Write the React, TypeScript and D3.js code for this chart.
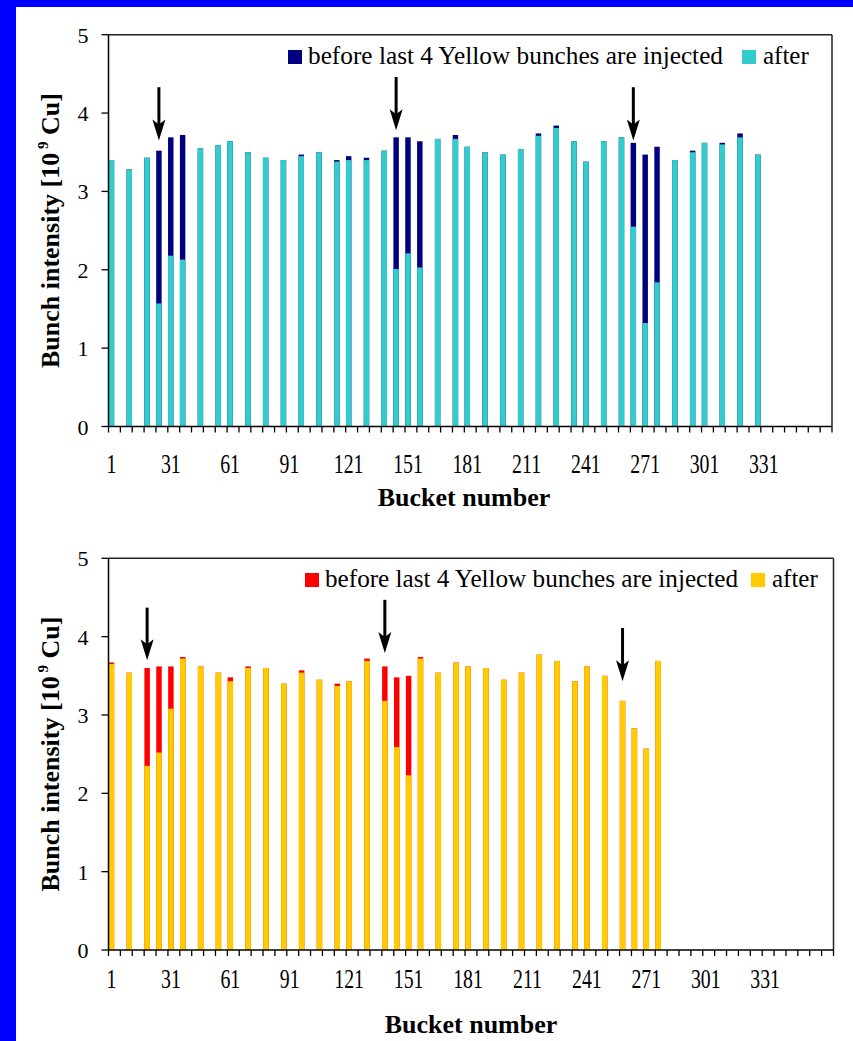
import React from 'react';
import * as d3 from 'd3';

// Category axis: every third bucket (RHIC bunch slots)
const buckets = d3.range(1, 365, 3);
const tickLabels = [1, 31, 61, 91, 121, 151, 181, 211, 241, 271, 301, 331];
const yTicks = [0, 1, 2, 3, 4, 5];

// Blue ring
const blueBuckets = [1, 10, 19, 25, 31, 37, 46, 55, 61, 70, 79, 88, 97, 106, 115, 121, 130, 139, 145, 151, 157, 166, 175, 181, 190, 199, 208, 217, 226, 235, 241, 250, 259, 265, 271, 277, 286, 295, 301, 310, 319, 328];
const blueAfter = [3.40, 3.28, 3.43, 1.57, 2.18, 2.13, 3.55, 3.59, 3.64, 3.50, 3.43, 3.40, 3.45, 3.50, 3.38, 3.40, 3.40, 3.52, 2.01, 2.21, 2.03, 3.67, 3.67, 3.57, 3.50, 3.47, 3.54, 3.71, 3.81, 3.64, 3.38, 3.64, 3.69, 2.55, 1.32, 1.84, 3.40, 3.50, 3.62, 3.60, 3.69, 3.47];
const blueBefore = [3.40, 3.28, 3.43, 3.52, 3.69, 3.72, 3.55, 3.59, 3.64, 3.50, 3.43, 3.40, 3.47, 3.50, 3.40, 3.45, 3.43, 3.52, 3.69, 3.69, 3.64, 3.67, 3.72, 3.57, 3.50, 3.47, 3.54, 3.74, 3.84, 3.64, 3.38, 3.64, 3.69, 3.62, 3.47, 3.57, 3.40, 3.52, 3.62, 3.62, 3.74, 3.47];
const blueArrowBuckets = [25, 145, 265];
const blueArrowTop = [4.33, 4.46, 4.33];
const blueArrowTip = [3.65, 3.78, 3.65];

// Yellow ring
const yellowBuckets = [1, 10, 19, 25, 31, 37, 46, 55, 61, 70, 79, 88, 97, 106, 115, 121, 130, 139, 145, 151, 157, 166, 175, 181, 190, 199, 208, 217, 226, 235, 241, 250, 259, 265, 271, 277];
const yellowAfter = [3.65, 3.54, 2.35, 2.52, 3.08, 3.72, 3.62, 3.54, 3.43, 3.60, 3.60, 3.40, 3.54, 3.45, 3.37, 3.43, 3.69, 3.18, 2.59, 2.23, 3.72, 3.54, 3.67, 3.62, 3.60, 3.45, 3.54, 3.77, 3.69, 3.43, 3.62, 3.50, 3.18, 2.83, 2.57, 3.69];
const yellowBefore = [3.67, 3.54, 3.60, 3.62, 3.62, 3.74, 3.62, 3.54, 3.48, 3.62, 3.60, 3.40, 3.57, 3.45, 3.40, 3.43, 3.72, 3.62, 3.48, 3.50, 3.74, 3.54, 3.67, 3.62, 3.60, 3.45, 3.54, 3.77, 3.69, 3.43, 3.62, 3.50, 3.18, 2.83, 2.57, 3.69];
const yellowArrowBuckets = [19, 139, 259];
const yellowArrowTop = [4.37, 4.47, 4.11];
const yellowArrowTip = [3.70, 3.79, 3.43];

const legendBefore = 'before last 4 Yellow bunches are injected';
const legendAfter = 'after';
const xTitle = 'Bucket number';

const W = 853;
const H = 1041;
const SERIF = '"Liberation Serif", "Times New Roman", serif';

type ChartProps = {
  bks: number[];
  after: number[];
  before: number[];
  arrB: number[];
  arrTop: number[];
  arrTip: number[];
  cBefore: string;
  cAfter: string;
  top: number;
  bottom: number;
  left: number;
  right: number;
  labelDy: number;
  titleDy: number;
  titleX: number;
  legBx: number;
  legY: number;
  legAx: number;
  legLen: number;
};

function Chart(p: ChartProps) {
  const x = d3.scaleBand<number>().domain(buckets).range([p.left, p.right]).padding(0);
  const y = d3.scaleLinear().domain([0, 5]).range([p.bottom, p.top]);
  const bw = x.bandwidth();
  const barW = bw * 0.92;
  const cx = (b: number) => (x(b) as number) + bw / 2;
  const tickXs: number[] = buckets.filter((_, i) => i % 2 === 0).map((b) => x(b) as number);
  tickXs.push(p.right);
  const midY = (p.top + p.bottom) / 2;

  return (
    <g>
      {/* before bars (behind) */}
      {p.bks.map((b, i) => (
        <rect key={'b' + b} x={cx(b) - barW / 2} y={y(p.before[i])} width={barW} height={y(0) - y(p.before[i])} fill={p.cBefore} />
      ))}
      {/* after bars (front) */}
      {p.bks.map((b, i) => (
        <rect key={'a' + b} x={cx(b) - barW / 2} y={y(p.after[i])} width={barW} height={y(0) - y(p.after[i])} fill={p.cAfter} />
      ))}
      {/* frame */}
      <line x1={p.left} x2={p.right} y1={p.top} y2={p.top} stroke="#222" strokeWidth={1.5} />
      <line x1={p.right} x2={p.right} y1={p.top} y2={p.bottom} stroke="#222" strokeWidth={1.5} />
      {/* axes */}
      <line x1={p.left} x2={p.left} y1={p.top} y2={p.bottom} stroke="#000" strokeWidth={1.5} />
      <line x1={p.left} x2={p.right} y1={p.bottom} y2={p.bottom} stroke="#000" strokeWidth={1.5} />
      {yTicks.map((t) => (
        <g key={'yt' + t}>
          <line x1={p.left - 7} x2={p.left} y1={y(t)} y2={y(t)} stroke="#000" strokeWidth={1.3} />
          <text x={p.left - 20} y={y(t) + 8} textAnchor="end" fontFamily={SERIF} fontSize={22} fill="#000">{t}</text>
        </g>
      ))}
      {tickXs.map((tx, i) => (
        <line key={'xt' + i} x1={tx} x2={tx} y1={p.bottom} y2={p.bottom + 6} stroke="#000" strokeWidth={1.3} />
      ))}
      {tickLabels.map((b) => (
        <text key={'xl' + b} transform={`translate(${cx(b)},${p.bottom + p.labelDy}) scale(0.9,1.25)`} textAnchor="middle" fontFamily={SERIF} fontSize={22} fill="#000">{b}</text>
      ))}
      <text x={p.titleX} y={p.bottom + p.titleDy} textAnchor="middle" fontFamily={SERIF} fontSize={26} fontWeight="bold" fill="#000">{xTitle}</text>
      <text transform={`translate(59,${midY}) rotate(-90)`} textAnchor="middle" fontFamily={SERIF} fontSize={26} fontWeight="bold" fill="#000">
        Bunch intensity [10<tspan fontSize={15} dy={-11}> 9</tspan><tspan dy={11}> Cu]</tspan>
      </text>
      {/* arrows */}
      {p.arrB.map((b, i) => {
        const ax = cx(b);
        const y0 = y(p.arrTop[i]);
        const y1 = y(p.arrTip[i]);
        return (
          <g key={'ar' + b}>
            <line x1={ax} x2={ax} y1={y0} y2={y1 - 14} stroke="#000" strokeWidth={3} />
            <path d={`M${ax},${y1} L${ax - 6.5},${y1 - 21} L${ax},${y1 - 16} L${ax + 6.5},${y1 - 21} Z`} fill="#000" />
          </g>
        );
      })}
      {/* legend */}
      <rect x={p.legBx} y={p.legY - 14} width={14} height={14} fill={p.cBefore} />
      <text x={p.legBx + 20} y={p.legY} fontFamily={SERIF} fontSize={25} fill="#000" textLength={p.legLen} lengthAdjust="spacingAndGlyphs">{legendBefore}</text>
      <rect x={p.legAx} y={p.legY - 14} width={14} height={14} fill={p.cAfter} />
      <text x={p.legAx + 21} y={p.legY} fontFamily={SERIF} fontSize={25} fill="#000">{legendAfter}</text>
    </g>
  );
}

export default function App() {
  return (
    <svg width={W} height={H} style={{ position: 'absolute', left: 0, top: 0 }}>
      <rect x={0} y={0} width={W} height={H} fill="#0000FF" />
      <rect x={16} y={7} width={W - 16} height={H - 7} fill="#FFFFFF" />
      <Chart
        bks={blueBuckets} after={blueAfter} before={blueBefore}
        arrB={blueArrowBuckets} arrTop={blueArrowTop} arrTip={blueArrowTip}
        cBefore="#000080" cAfter="#33CCCC"
        top={34.7} bottom={426.5} left={108.5} right={832}
        labelDy={46} titleDy={79} titleX={464}
        legBx={288} legY={64} legAx={742} legLen={415}
      />
      <Chart
        bks={yellowBuckets} after={yellowAfter} before={yellowBefore}
        arrB={yellowArrowBuckets} arrTop={yellowArrowTop} arrTip={yellowArrowTip}
        cBefore="#FF0000" cAfter="#FFCC00"
        top={558.3} bottom={950} left={108.5} right={833.5}
        labelDy={38} titleDy={83} titleX={471}
        legBx={305} legY={587} legAx={751} legLen={413}
      />
    </svg>
  );
}
